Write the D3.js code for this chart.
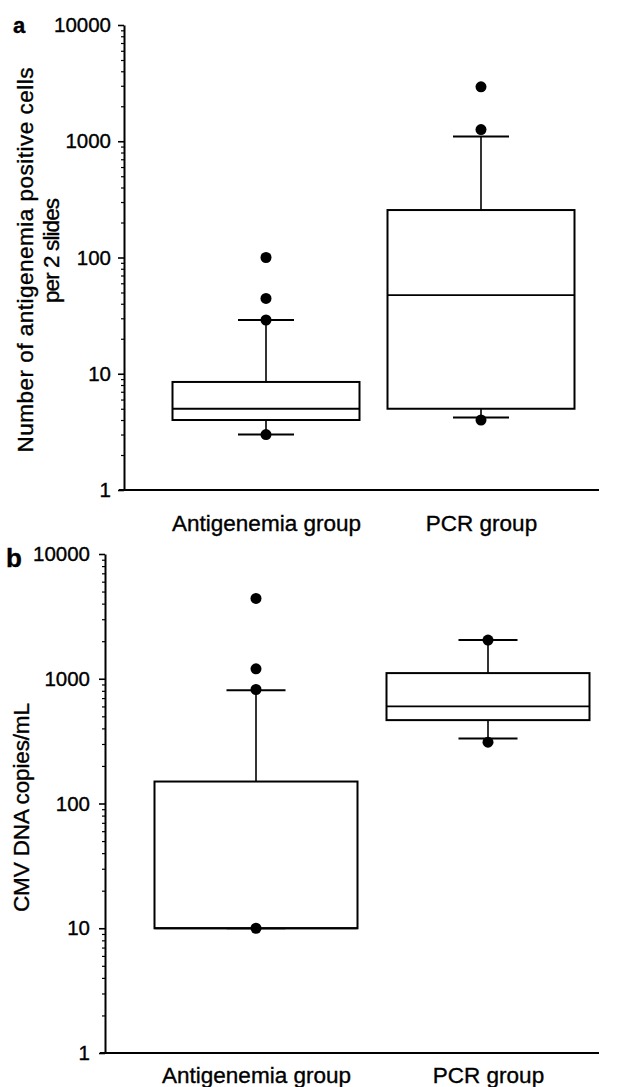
<!DOCTYPE html>
<html>
<head>
<meta charset="utf-8">
<script src="https://cdn.jsdelivr.net/npm/d3@7"></script>
<style>
    body { margin: 0; background: #fff; }
    svg { display: block; font-family: 'Liberation Sans', Arial, sans-serif; }
    svg text { stroke: #000; stroke-width: 0.35px; }
    .axis path, .axis line { stroke: #000; }
    .axis text { fill: #000; }
</style>
</head>
<body>
<div id="chart"></div>
<script>
// Categories
const groups = ['Antigenemia group', 'PCR group'];
const yTicks = [1, 10, 100, 1000, 10000];

// Panel a: antigenemia positive cells per 2 slides
const cellsLow = [3, 4.2];
const cellsQ1 = [4, 5];
const cellsMedian = [5, 47.5];
const cellsQ3 = [8.5, 256];
const cellsHigh = [29, 1100];
const cellsPoints = [[100, 44.5, 29, 3], [2940, 1260, 4]];

// Panel b: CMV DNA copies/mL
const dnaLow = [10, 332];
const dnaQ1 = [10, 466];
const dnaMedian = [10, 600];
const dnaQ3 = [150, 1110];
const dnaHigh = [810, 2040];
const dnaPoints = [[4400, 1200, 820, 10], [2040, 310]];

const svg = d3.select('#chart')
    .append('svg')
    .attr('width', 625)
    .attr('height', 1087);

// minor ticks 2..9 inside each decade
const minorTicks = [];
yTicks.slice(0, -1).forEach(d => {
    for (let k = 2; k <= 9; k++) minorTicks.push(d * k);
});

function drawPanel(p) {
    const g = svg.append('g');

    const y = d3.scaleLog()
        .domain([1, 10000])
        .range([p.bottom, p.top]);

    const x = d3.scalePoint()
        .domain(groups)
        .range(p.centers);

    // y axis, major ticks
    g.append('g')
        .attr('class', 'axis')
        .attr('transform', `translate(${p.axisX},0)`)
        .call(d3.axisLeft(y)
            .tickValues(yTicks)
            .tickSize(6)
            .tickSizeOuter(0)
            .tickPadding(p.tickPad)
            .tickFormat(d3.format('d')))
        .call(a => a.select('.domain').attr('stroke-width', 2))
        .call(a => a.selectAll('.tick line').attr('stroke-width', 1.6))
        .call(a => a.selectAll('.tick text')
            .style('font-size', p.tickFont + 'px')
            .attr('font-family', null));

    // minor ticks
    g.append('g')
        .attr('class', 'axis')
        .attr('transform', `translate(${p.axisX},0)`)
        .call(d3.axisLeft(y).tickValues(minorTicks).tickSize(3).tickFormat(''))
        .call(a => a.select('.domain').remove())
        .call(a => a.selectAll('.tick line').attr('stroke-width', 1.2));

    // x axis line
    g.append('line')
        .attr('x1', p.axisX - 5)
        .attr('x2', p.right)
        .attr('y1', y(1))
        .attr('y2', y(1))
        .attr('stroke', '#000')
        .attr('stroke-width', 2);

    // category labels
    g.append('g')
        .attr('class', 'axis')
        .attr('transform', `translate(0,${p.labelY})`)
        .call(d3.axisBottom(x).tickSize(0).tickPadding(0))
        .call(a => a.select('.domain').remove())
        .call(a => a.selectAll('.tick text')
            .attr('dy', 0)
            .attr('y', 0)
            .attr('font-family', null)
            .style('font-size', '22.5px'));

    const s = p.stats;
    groups.forEach((grp, i) => {
        const cx = x(grp);
        const bw = p.boxW;
        const cw = p.capW;

        // whiskers
        g.append('line')
            .attr('x1', cx).attr('x2', cx)
            .attr('y1', y(s.q3[i])).attr('y2', y(s.high[i]))
            .attr('stroke', '#000').attr('stroke-width', 1.6);
        g.append('line')
            .attr('x1', cx).attr('x2', cx)
            .attr('y1', y(s.q1[i])).attr('y2', y(s.low[i]))
            .attr('stroke', '#000').attr('stroke-width', 1.6);

        // caps
        [s.high[i], s.low[i]].forEach(v => {
            g.append('line')
                .attr('x1', cx - cw / 2).attr('x2', cx + cw / 2)
                .attr('y1', y(v)).attr('y2', y(v))
                .attr('stroke', '#000').attr('stroke-width', 2);
        });

        // box
        g.append('rect')
            .attr('x', cx - bw / 2)
            .attr('y', y(s.q3[i]))
            .attr('width', bw)
            .attr('height', y(s.q1[i]) - y(s.q3[i]))
            .attr('fill', '#fff')
            .attr('stroke', '#000')
            .attr('stroke-width', 2);

        // median
        g.append('line')
            .attr('x1', cx - bw / 2).attr('x2', cx + bw / 2)
            .attr('y1', y(s.median[i])).attr('y2', y(s.median[i]))
            .attr('stroke', '#000').attr('stroke-width', 1.8);

        // individual points
        g.selectAll(null)
            .data(s.points[i])
            .enter().append('circle')
            .attr('cx', cx)
            .attr('cy', d => y(d))
            .attr('r', 5.5)
            .attr('fill', '#000');
    });

    // y axis title
    p.title.forEach(t => {
        g.append('text')
            .attr('transform', `translate(${t.x},${t.y}) rotate(-90)`)
            .attr('text-anchor', 'middle')
            .attr('textLength', t.len)
            .attr('lengthAdjust', 'spacing')
            .style('font-size', '22.5px')
            .text(t.text);
    });

    // panel letter
    g.append('text')
        .attr('x', p.letter.x)
        .attr('y', p.letter.y)
        .style('font-size', p.letter.size + 'px')
        .style('font-weight', 'bold')
        .text(p.letter.text);
}

drawPanel({
    axisX: 124, top: 25, bottom: 490, right: 599,
    centers: [266, 481], boxW: 187, capW: 56,
    tickPad: 7, tickFont: 20.5, labelY: 531,
    stats: { low: cellsLow, q1: cellsQ1, median: cellsMedian, q3: cellsQ3, high: cellsHigh, points: cellsPoints },
    title: [
        { text: 'Number of antigenemia positive cells', x: 32.5, y: 260, len: 385 },
        { text: 'per 2 slides', x: 58.5, y: 250.5, len: 105 }
    ],
    letter: { text: 'a', x: 13, y: 33, size: 22 }
});

drawPanel({
    axisX: 105, top: 554, bottom: 1053, right: 599,
    centers: [256, 488], boxW: 203, capW: 59,
    tickPad: 9, tickFont: 20.5, labelY: 1083,
    stats: { low: dnaLow, q1: dnaQ1, median: dnaMedian, q3: dnaQ3, high: dnaHigh, points: dnaPoints },
    title: [
        { text: 'CMV DNA copies/mL', x: 28.5, y: 807.5, len: 209 }
    ],
    letter: { text: 'b', x: 6, y: 567, size: 26 }
});
</script>
</body>
</html>
